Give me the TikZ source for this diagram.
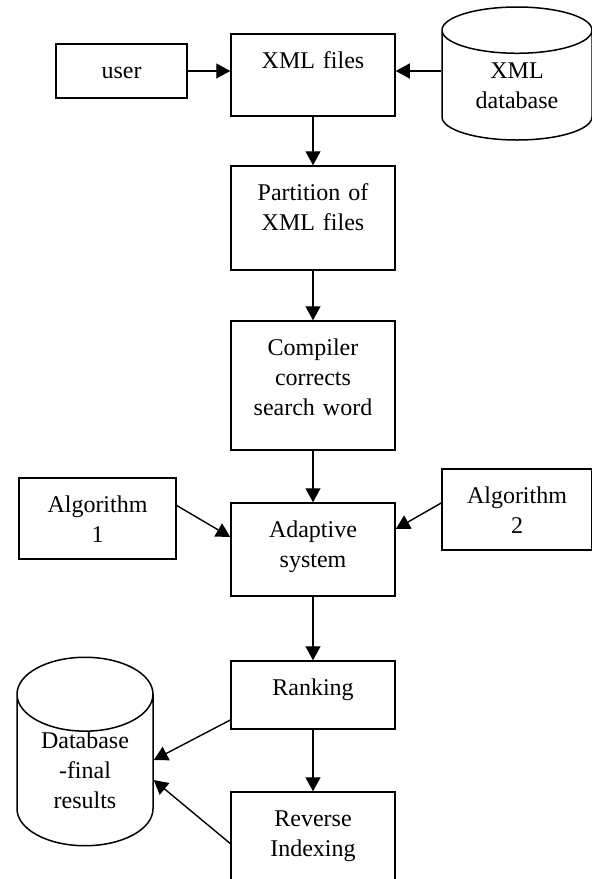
\documentclass[tikz,border=0pt]{standalone}
\usepackage{fontspec}
\setmainfont{Liberation Serif}
\usetikzlibrary{arrows.meta, positioning, calc, shapes.geometric}

\begin{document}
\begin{tikzpicture}[x=0.5pt,y=-0.5pt,
    stepbox/.style={draw, line width=0.75pt, inner sep=0pt, align=center, text height=17pt},
    dbstore/.style={draw, line width=0.75pt, cylinder, shape border rotate=90, align=center, inner sep=0pt, anchor=shape center},
    flow/.style={-{Triangle[length=7pt,width=7.5pt]}, line width=0.7pt}]
  \useasboundingbox (0,0) rectangle (592,879);
  \fontsize{12pt}{15pt}\selectfont
  % main column
  \node[stepbox, text width=82pt, text depth=24pt] (xmlfiles) at (313,75) {XML files};
  \node[stepbox, text width=82pt, text depth=35pt] (partition) at (313,218) {Partition of\\XML files};
  \node[stepbox, text width=82pt, text depth=47.5pt] (compiler) at (313,385.5) {Compiler\\corrects\\search word};
  \node[stepbox, text width=82pt, text depth=29.5pt] (adaptive) at (313,549.5) {Adaptive\\system};
  \node[stepbox, text width=82pt, text depth=17pt] (ranking) at (313,695) {Ranking};
  \node[stepbox, text width=82pt, text depth=34.5pt] (reverse) at (313,843.5) {Reverse\\Indexing};
  % inputs and stores
  \node[stepbox, text width=65.5pt, text depth=10pt] (user) at (121.5,71) {user};
  \node[stepbox, text width=78.5pt, text depth=23.5pt] (algone) at (97.5,518.5) {Algorithm\\1};
  \node[stepbox, text width=75pt, text depth=23.5pt] (algtwo) at (517,509.5) {Algorithm\\2};
  \node[dbstore, minimum width=75pt, minimum height=66.5pt, aspect=0.56] (xmldb) at (517,73.5) {XML\\database};
  \node[dbstore, minimum width=68pt, minimum height=90.5pt, aspect=0.84] (dbfinal) at (85,751.5) {Database\\-final\\results};
  % connectors
  \draw[flow] (user) -- (user -| xmlfiles.west);
  \draw[flow] (xmldb.west |- user) -- (user -| xmlfiles.east);
  \draw[flow] (xmlfiles) -- (partition);
  \draw[flow] (partition) -- (compiler);
  \draw[flow] (compiler) -- (adaptive);
  \draw[flow] ([yshift=6.5pt]algone.east) -- ([yshift=6.25pt]adaptive.west);
  \draw[flow] ([yshift=3.25pt]algtwo.west) -- ([yshift=10.25pt]adaptive.east);
  \draw[flow] (adaptive) -- (ranking);
  \draw[flow] (ranking) -- (reverse);
  \draw[flow] ([yshift=-12.5pt]ranking.west) -- ($(dbfinal.shape center -| dbfinal.east)+(0,8.5)$);
  \draw[flow] (reverse.west) -- ($(dbfinal.shape center -| dbfinal.east)+(0,28.5)$);
\end{tikzpicture}
\end{document}
